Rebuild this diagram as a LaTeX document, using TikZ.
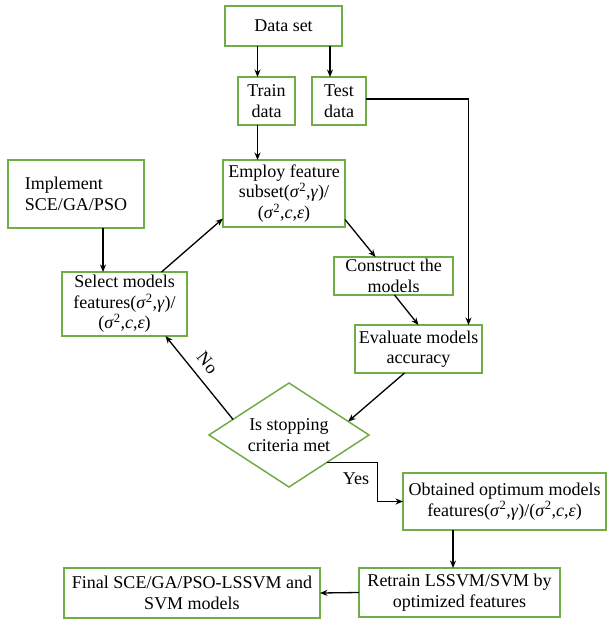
\documentclass[tikz,border=0pt]{standalone}
\usepackage{fontspec}
\setmainfont{Liberation Serif}
\usetikzlibrary{arrows.meta,shapes.geometric,calc}
\definecolor{boxgreen}{RGB}{112,173,71}
\newcommand{\sgsq}{\textit{σ}\textsuperscript{2}}
\tikzset{
  stepbox/.style={draw=boxgreen, line width=1.5pt, inner sep=0pt, outer sep=0pt,
    align=center, font=\rmfamily\fontsize{18}{20.5}\selectfont},
  decide/.style={stepbox, diamond, shape aspect=1.55},
  arr/.style={-{Stealth[length=7.5pt,width=6pt]}, line width=1.3pt}
}
\begin{document}
\begin{tikzpicture}[x=1pt,y=-1pt]
\useasboundingbox (0,0) rectangle (607,621);
\node[stepbox, minimum width=117pt, minimum height=40pt] (dataset) at (283.5,26) {Data set};
\node[stepbox, minimum width=57pt, minimum height=48pt] (train) at (266.5,101) {Train\\data};
\node[stepbox, minimum width=54pt, minimum height=48pt] (test) at (339,101) {Test\\data};
\node[stepbox, minimum width=122pt, minimum height=67pt] (employ) at (284,193.5) {Employ feature\\subset(\sgsq,\textit{γ})/\\(\sgsq,\textit{c},\textit{ε})};
\node[stepbox, minimum width=136pt, minimum height=68pt, align=left] (implement) at (76,194) {Implement\\SCE/GA/PSO};
\node[stepbox, minimum width=125pt, minimum height=64pt] (select) at (124.5,304) {Select models\\features(\sgsq,\textit{γ})/\\(\sgsq,\textit{c},\textit{ε})};
\node[stepbox, minimum width=119pt, minimum height=38pt] (construct) at (393.5,276) {Construct the\\models};
\node[stepbox, minimum width=127pt, minimum height=48pt] (evaluate) at (418.5,349) {Evaluate models\\accuracy};
\node[decide, minimum width=160pt, minimum height=104pt] (stopping) at (289,435) {Is stopping\\criteria met};
\node[stepbox, minimum width=203pt, minimum height=57pt] (obtained) at (504.5,501.5) {Obtained optimum models\\features(\sgsq,\textit{γ})/(\sgsq,\textit{c},\textit{ε})};
\node[stepbox, minimum width=201pt, minimum height=49pt] (retrain) at (459.5,592.5) {Retrain LSSVM/SVM by\\optimized features};
\node[stepbox, minimum width=256pt, minimum height=50pt] (final) at (192,593) {Final SCE/GA/PSO-LSSVM and\\SVM models};
\draw[arr] ([xshift=-9pt]train.north |- dataset.south) -- ([xshift=-9pt]train.north);
\draw[arr] ([xshift=-9pt]test.north |- dataset.south) -- ([xshift=-9pt]test.north);
\draw[arr] ([xshift=-9pt]train.south) -- ([xshift=-9pt]train.south |- employ.north);
\draw[arr] ([yshift=2pt]test.east) -| ([xshift=50pt]evaluate.north);
\draw[arr] ([xshift=27pt]implement.south) -- ([xshift=27pt]implement.south |- select.north);
\draw[arr] ([xshift=37pt]select.north) -- ([yshift=-25pt]employ.west);
\draw[arr] ([yshift=-26pt]employ.east) -- ([xshift=-18pt]construct.north);
\draw[arr] ([xshift=1pt]construct.south) -- (evaluate.north);
\draw[arr] ([xshift=-14pt]evaluate.south) -- ($(stopping.north)!0.74!(stopping.east)$);
\draw[arr] ($(stopping.north)!0.7!(stopping.west)$) -- node[pos=0.56, sloped, above=9pt, inner sep=0pt, font=\rmfamily\fontsize{18}{20.5}\selectfont] (nolabel) {No} ([xshift=41pt]select.south);
\coordinate (yesstart) at ($(stopping.east)!0.53!(stopping.south)$);
\draw[arr] (yesstart) -- ++(51,0) |- (obtained.west);
\node[font=\rmfamily\fontsize{18}{20.5}\selectfont] (yeslabel) at (356,479) {Yes};
\draw[arr] ([xshift=-51.5pt]obtained.south) -- ([xshift=-51.5pt]obtained.south |- retrain.north);
\draw[arr] (retrain.west) -- (final.east);
\end{tikzpicture}
\end{document}
